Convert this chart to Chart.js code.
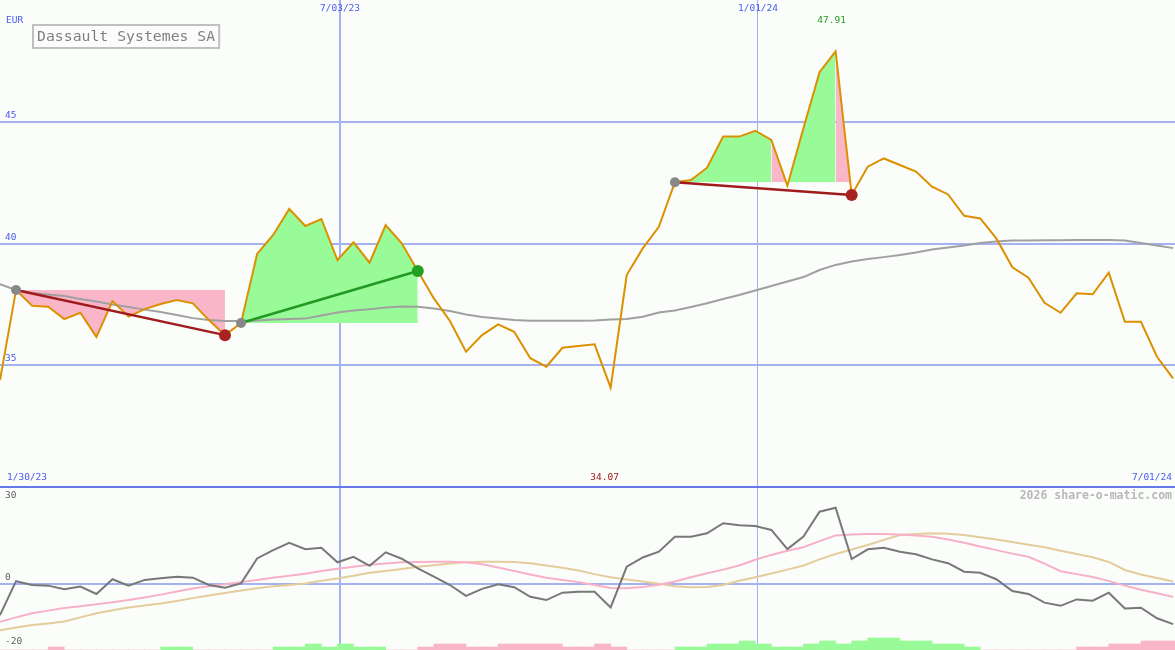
<!DOCTYPE html>
<html>
<head>
<meta charset="utf-8">
<title>Dassault Systemes SA</title>
<script src="https://cdn.jsdelivr.net/npm/chart.js@4"></script>
<style>
  body { margin: 0; background: #fafdfa; }
  #wrap { position: relative; width: 1175px; height: 650px; }
  #wrap canvas { position: absolute; left: 0; }
  #main { top: 0; }
  #osc { top: 488px; }
</style>
</head>
<body>
<div id="wrap">
  <canvas id="main" width="1175" height="488"></canvas>
  <canvas id="osc" width="1175" height="162"></canvas>
</div>
<script>
// weekly closes, EUR (index = week number)
const price = [34.38, 38.09, 37.44, 37.40, 36.89, 37.15, 36.16, 37.63, 36.99, 37.30,
  37.51, 37.67, 37.54, 36.85, 36.23, 36.73, 39.57, 40.35, 41.42, 40.72,
  41.01, 39.32, 40.05, 39.21, 40.76, 40.01, 38.87, 37.74, 36.81, 35.55,
  36.23, 36.67, 36.37, 35.28, 34.93, 35.71, 35.78, 35.85, 34.07, 38.70,
  39.80, 40.69, 42.52, 42.61, 43.12, 44.40, 44.40, 44.64, 44.26, 42.38,
  44.75, 47.05, 47.91, 42.00, 43.16, 43.50, 43.23, 42.96, 42.34, 42.02,
  41.14, 41.03, 40.21, 39.02, 38.59, 37.56, 37.15, 37.95, 37.91, 38.80,
  36.78, 36.78, 35.34, 34.45];

// moving average (grey)
const avg = [38.33, 38.09, 37.96, 37.90, 37.84, 37.72, 37.61, 37.49, 37.39, 37.28,
  37.18, 37.06, 36.93, 36.85, 36.81, 36.81, 36.83, 36.87, 36.89, 36.91,
  37.04, 37.16, 37.24, 37.30, 37.37, 37.41, 37.40, 37.33, 37.22, 37.08,
  36.98, 36.91, 36.85, 36.82, 36.82, 36.82, 36.82, 36.83, 36.87, 36.89,
  36.99, 37.16, 37.24, 37.39, 37.54, 37.72, 37.88, 38.07, 38.25, 38.44,
  38.62, 38.91, 39.12, 39.26, 39.36, 39.44, 39.53, 39.63, 39.75, 39.84,
  39.92, 40.02, 40.08, 40.12, 40.12, 40.13, 40.13, 40.14, 40.14, 40.14,
  40.12, 40.02, 39.92, 39.81];

// lower panel: oscillator and its two averages
const osc = [-9.8, 0.8, -0.4, -0.6, -1.75, -0.9, -3.2, 1.4, -0.6, 1.2,
  1.7, 2.2, 1.9, -0.4, -1.25, 0.1, 7.9, 10.5, 12.8, 10.8,
  11.25, 6.7, 8.4, 5.6, 9.8, 7.8, 4.8, 2.2, -0.4, -3.8,
  -1.6, -0.2, -1.1, -4.1, -5.1, -2.8, -2.5, -2.5, -7.4, 5.3,
  8.2, 10.0, 14.7, 14.7, 15.75, 18.9, 18.3, 18.0, 16.8, 10.8,
  14.7, 22.5, 23.75, 7.7, 10.75, 11.25, 10.0, 9.2, 7.6, 6.4,
  3.75, 3.4, 1.4, -2.3, -3.2, -5.9, -6.9, -4.9, -5.3, -2.8,
  -7.7, -7.5, -10.8, -12.6];

const oscFast = [-11.9, -10.5, -9.2, -8.4, -7.6, -7.0, -6.4, -5.8, -5.1, -4.3,
  -3.4, -2.4, -1.5, -0.8, -0.2, 0.5, 1.2, 1.9, 2.5, 3.1,
  4.0, 4.7, 5.3, 5.9, 6.3, 6.7, 6.8, 6.85, 6.9, 6.7,
  6.1, 5.1, 4.0, 2.9, 1.9, 1.2, 0.5, -0.4, -1.3, -1.4,
  -1.0, -0.3, 0.7, 2.0, 3.3, 4.4, 5.7, 7.5, 9.0, 10.3,
  11.4, 13.3, 15.1, 15.4, 15.5, 15.5, 15.4, 15.1, 14.7, 13.8,
  12.8, 11.6, 10.5, 9.4, 8.4, 6.3, 3.9, 3.0, 2.1, 0.9,
  -0.6, -1.9, -3.0, -4.1];

const oscSlow = [-14.5, -13.7, -12.9, -12.4, -11.8, -10.5, -9.2, -8.3, -7.4, -6.8,
  -6.2, -5.4, -4.5, -3.7, -2.9, -2.1, -1.4, -0.8, -0.4, 0.1,
  0.9, 1.6, 2.5, 3.4, 4.0, 4.6, 5.3, 5.8, 6.3, 6.7,
  6.9, 6.85, 6.75, 6.4, 5.7, 5.0, 4.1, 3.0, 2.0, 1.3,
  0.7, 0.0, -0.8, -1.1, -1.0, -0.4, 0.9, 2.0, 3.2, 4.4,
  5.7, 7.6, 9.3, 10.7, 12.1, 13.7, 15.2, 15.5, 15.75, 15.6,
  15.2, 14.5, 13.8, 13.0, 12.2, 11.4, 10.3, 9.3, 8.25, 6.8,
  4.3, 2.9, 1.8, 0.7];

// histogram steps at the bottom (+ green, - pink)
const hist = [0, 0, 0, -1, 0, 0, 0, 0, 0, 0,
  1, 1, 0, 0, 0, 0, 0, 1, 1, 2,
  1, 2, 1, 1, 0, 0, -1, -2, -2, -1,
  -1, -2, -2, -2, -2, -1, -1, -2, -1, 0,
  0, 0, 1, 1, 2, 2, 3, 2, 1, 1,
  2, 3, 2, 3, 4, 4, 3, 3, 2, 2,
  1, 0, 0, 0, 0, 0, 0, -1, -1, -2,
  -2, -3, -3, -3];

// signal zones: shaded areas, trend lines, dots
const fillFrom  = [1, 15, 42, 48, 49, 52];
const fillTo    = [14, 26, 48, 49, 52, 53];
const fillBase  = [1, 15, 42, 42, 42, 42];
const fillBelow = [true, false, false, false, false, false];
const fillGain  = [false, true, true, false, true, false];
const trendFrom = [1, 15, 42];
const trendTo   = [14, 26, 53];
const trendUp   = [false, true, false];

// axis labels
const title = 'Dassault Systemes SA';
const currency = 'EUR';
const priceTicks = [45, 40, 35];
const oscTicks = [30, 0, -20];
const gridDates = ['7/03/23', '1/01/24'];
const gridAt = [21.16, 47.17];
const startDate = '1/30/23';
const endDate = '7/01/24';
const credit = '2026 share-o-matic.com';

const gridBlue = '#a4b2f2';
const sepBlue = '#6878e8';
const labelBlue = '#4a5af0';
const green = 'rgb(152,251,152)';
const pink = 'rgb(250,182,201)';
const darkRed = '#a01c1c';
const darkGreen = '#229922';
const mono = '"DejaVu Sans Mono", "Liberation Mono", monospace';

const pts = arr => arr.map((v, i) => ({ x: i, y: v }));
const xMax = 73.12;

const xScale = {
  type: 'linear', min: 0, max: xMax, offset: false,
  ticks: { display: false }, border: { display: false },
  grid: { drawTicks: false, offset: false, color: gridBlue, lineWidth: c => c.index === 0 ? 2 : 1 },
  afterBuildTicks: s => { s.ticks = gridAt.map(v => ({ value: v })); }
};

// main panel datasets
const mainSets = [];
fillFrom.forEach((from, k) => {
  const col = fillGain[k] ? green : pink;
  mainSets.push({
    data: pts(price).slice(from, fillTo[k] + 1),
    borderColor: 'transparent', borderWidth: 0, pointRadius: 0,
    fill: {
      target: { value: price[fillBase[k]] },
      above: fillBelow[k] ? 'transparent' : col,
      below: fillBelow[k] ? col : 'transparent'
    },
    order: 5
  });
});
mainSets.push({ data: pts(avg), borderColor: '#a0a0a0', borderWidth: 2, pointRadius: 0, order: 4 });
mainSets.push({ data: pts(price), borderColor: '#dc9000', borderWidth: 2, pointRadius: 0, order: 3 });
trendFrom.forEach((from, k) => {
  mainSets.push({
    data: [{ x: from, y: price[from] }, { x: trendTo[k], y: price[trendTo[k]] }],
    borderColor: trendUp[k] ? darkGreen : darkRed, borderWidth: 2.5, pointRadius: 0, order: 2
  });
});
mainSets.push({
  data: trendFrom.map(i => ({ x: i, y: price[i] })),
  showLine: false, pointRadius: 5, pointBorderWidth: 0, pointBackgroundColor: '#888888', order: 1
});
mainSets.push({
  data: trendTo.map(i => ({ x: i, y: price[i] })),
  showLine: false, pointRadius: 6, pointBorderWidth: 0,
  pointBackgroundColor: trendUp.map(u => u ? '#22a022' : '#a82222'), order: 0
});

const mainText = {
  id: 'mainText',
  afterDraw(chart) {
    const { ctx, scales: { x, y } } = chart;
    ctx.save();
    ctx.textBaseline = 'middle';
    ctx.font = '9.5px ' + mono;
    ctx.fillStyle = labelBlue;
    ctx.textAlign = 'left';
    ctx.fillText(currency, 6, 21);
    priceTicks.forEach(v => ctx.fillText(String(v), 5, y.getPixelForValue(v) - 6));
    ctx.fillText(startDate, 7, 478);
    ctx.textAlign = 'right';
    ctx.fillText(endDate, 1172, 478);
    ctx.textAlign = 'center';
    gridAt.forEach((v, i) => ctx.fillText(gridDates[i], x.getPixelForValue(v), 9));

    const hi = price.indexOf(Math.max(...price));
    const lo = price.indexOf(Math.min(...price));
    ctx.fillStyle = '#22a022';
    ctx.fillText(price[hi].toFixed(2), x.getPixelForValue(hi) - 4, 21);
    ctx.fillStyle = darkRed;
    ctx.fillText(price[lo].toFixed(2), x.getPixelForValue(lo) - 6, 478);

    ctx.font = '14.8px ' + mono;
    const w = ctx.measureText(title).width;
    ctx.fillStyle = '#fafdfa';
    ctx.fillRect(33, 25, w + 8, 23);
    ctx.strokeStyle = '#c0c0c0';
    ctx.lineWidth = 2;
    ctx.strokeRect(33, 25, w + 8, 23);
    ctx.fillStyle = '#808080';
    ctx.textAlign = 'left';
    ctx.fillText(title, 37, 37);
    ctx.restore();
  }
};

new Chart(document.getElementById('main'), {
  type: 'line',
  data: { datasets: mainSets },
  options: {
    responsive: false, animation: false, devicePixelRatio: 1,
    layout: { padding: 0, autoPadding: false },
    elements: { line: { tension: 0 } },
    plugins: { legend: { display: false }, tooltip: { enabled: false } },
    scales: {
      x: xScale,
      y: {
        min: 29.94, max: 50.02,
        ticks: { display: false }, border: { display: false },
        grid: { drawTicks: false, lineWidth: 2, color: c => c.tick.value === 30 ? sepBlue : gridBlue },
        afterBuildTicks: s => { s.ticks = priceTicks.concat([30]).map(v => ({ value: v })); }
      }
    }
  },
  plugins: [mainText]
});

// lower panel
const oscText = {
  id: 'oscText',
  afterDraw(chart) {
    const { ctx, scales: { y } } = chart;
    ctx.save();
    ctx.textBaseline = 'middle';
    ctx.font = '9.5px ' + mono;
    ctx.fillStyle = '#606060';
    ctx.textAlign = 'left';
    oscTicks.forEach(v => ctx.fillText(String(v), 5, Math.max(y.getPixelForValue(v) - 6, 8)));
    ctx.font = 'bold 11.5px ' + mono;
    ctx.fillStyle = '#b8b8b8';
    ctx.textAlign = 'right';
    ctx.fillText(credit, 1172, 8);
    ctx.restore();
  }
};

new Chart(document.getElementById('osc'), {
  type: 'line',
  data: {
    datasets: [
      { data: pts(osc), borderColor: '#787878', borderWidth: 2, pointRadius: 0, order: 0 },
      { data: pts(oscFast), borderColor: 'rgb(248,176,200)', borderWidth: 2, pointRadius: 0, order: 1 },
      { data: pts(oscSlow), borderColor: 'rgb(228,204,156)', borderWidth: 2, pointRadius: 0, order: 2 },
      {
        type: 'bar', yAxisID: 'yb', order: 3,
        data: hist.map((v, i) => ({ x: i + 0.5, y: Math.abs(v) })),
        backgroundColor: hist.map(v => v > 0 ? green : pink),
        borderWidth: 0, barPercentage: 1, categoryPercentage: 1
      }
    ]
  },
  options: {
    responsive: false, animation: false, devicePixelRatio: 1,
    layout: { padding: 0, autoPadding: false },
    elements: { line: { tension: 0 } },
    plugins: { legend: { display: false }, tooltip: { enabled: false } },
    scales: {
      x: xScale,
      y: {
        min: -20.7, max: 29.9,
        ticks: { display: false }, border: { display: false },
        grid: { drawTicks: false, lineWidth: 2, color: gridBlue },
        afterBuildTicks: s => { s.ticks = [{ value: 0 }]; }
      },
      yb: { display: false, min: 0, max: 54 }
    }
  },
  plugins: [oscText]
});
</script>
</body>
</html>
